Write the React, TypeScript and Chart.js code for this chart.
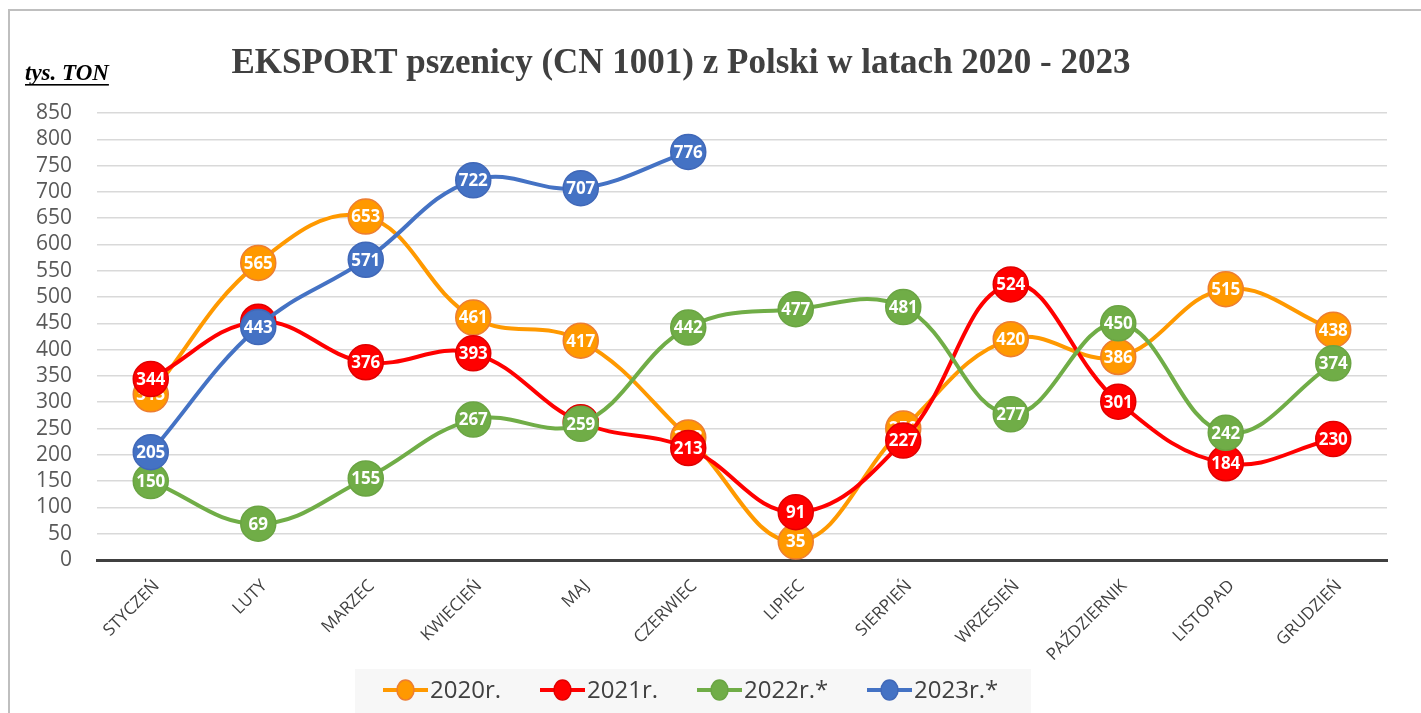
import React, { useEffect, useRef } from "react";
import { Chart, registerables } from "chart.js";
Chart.register(...registerables);

const months = ["STYCZEŃ", "LUTY", "MARZEC", "KWIECIEŃ", "MAJ", "CZERWIEC", "LIPIEC", "SIERPIEŃ", "WRZESIEŃ", "PAŹDZIERNIK", "LISTOPAD", "GRUDZIEŃ"];
const exp2020 = [315, 565, 653, 461, 417, 233, 35, 250, 420, 386, 515, 438];
const exp2021 = [344, 453, 376, 393, 262, 213, 91, 227, 524, 301, 184, 230];
const exp2022 = [150, 69, 155, 267, 259, 442, 477, 481, 277, 450, 242, 374];
const exp2023 = [205, 443, 571, 722, 707, 776];
const seriesNames = ["2020r.", "2021r.", "2022r.*", "2023r.*"];
const seriesColors = ["#FF9900", "#FF0000", "#70AD47", "#4472C4"];
const seriesBorders = ["#ED7D31", "#E00000", "#6AA443", "#4068B8"];
const yMax = 850;
const yStep = 50;
const titleText = "EKSPORT pszenicy (CN 1001) z Polski w latach 2020 - 2023";
const unitText = "tys. TON";

const W = 1421;
const H = 713;

const decorPlugin = {
  id: "decor",
  beforeDraw(chart: any) {
    const ctx = chart.ctx;
    ctx.save();
    ctx.fillStyle = "#ffffff";
    ctx.fillRect(0, 0, W, H);
    ctx.strokeStyle = "#bfbfbf";
    ctx.lineWidth = 2;
    ctx.beginPath();
    ctx.moveTo(9, H + 5);
    ctx.lineTo(9, 10);
    ctx.lineTo(W + 5, 10);
    ctx.stroke();
    // title
    ctx.fillStyle = "#404040";
    ctx.font = "bold 35px 'Liberation Serif', 'Times New Roman', serif";
    ctx.textAlign = "center";
    ctx.textBaseline = "alphabetic";
    ctx.fillText(titleText, 681, 73);
    // unit label
    ctx.font = "italic bold 23px 'Liberation Serif', 'Times New Roman', serif";
    ctx.textAlign = "left";
    ctx.fillStyle = "#000000";
    ctx.fillText(unitText, 25, 80);
    const tw = ctx.measureText(unitText).width;
    ctx.fillRect(25, 84, tw, 1.6);
    ctx.restore();
  },
  afterDraw(chart: any) {
    const ctx = chart.ctx;
    ctx.save();
    // legend box
    ctx.fillStyle = "#f7f7f7";
    ctx.fillRect(355, 669, 676, 50);
    const xs = [383, 540, 697, 867];
    const cy = 690;
    ctx.font = "24px 'Open Sans', sans-serif";
    ctx.textBaseline = "middle";
    ctx.textAlign = "left";
    for (let i = 0; i < 4; i++) {
      const x = xs[i];
      ctx.strokeStyle = seriesColors[i];
      ctx.lineWidth = 4;
      ctx.beginPath();
      ctx.moveTo(x, cy);
      ctx.lineTo(x + 45, cy);
      ctx.stroke();
      ctx.beginPath();
      ctx.fillStyle = seriesColors[i];
      ctx.strokeStyle = seriesBorders[i];
      ctx.lineWidth = 1.5;
      ctx.ellipse(x + 22.5, cy, 8.5, 10, 0, 0, Math.PI * 2);
      ctx.fill();
      ctx.stroke();
      ctx.fillStyle = "#404040";
      ctx.fillText(seriesNames[i], x + 47, cy + 1);
    }
    ctx.restore();
  },
  afterDatasetDraw(chart: any, args: any) {
    const ctx = chart.ctx;
    const meta = args.meta;
    const ds = chart.data.datasets[args.index];
    ctx.save();
    ctx.fillStyle = "#ffffff";
    ctx.font = "bold 17px 'Open Sans', sans-serif";
    ctx.textAlign = "center";
    ctx.textBaseline = "middle";
    meta.data.forEach((pt: any, i: number) => {
      const v = ds.data[i];
      if (v === null || v === undefined) return;
      ctx.fillText(String(v), pt.x, pt.y + 1);
    });
    ctx.restore();
  },
};

export default function App() {
  const ref = useRef<HTMLCanvasElement>(null);
  useEffect(() => {
    const all = [exp2020, exp2021, exp2022, exp2023];
    const chart = new Chart(ref.current as HTMLCanvasElement, {
      type: "line",
      data: {
        labels: months,
        datasets: all.map((d, i) => ({
          label: seriesNames[i],
          data: d,
          borderColor: seriesColors[i],
          backgroundColor: seriesColors[i],
          borderWidth: 4,
          tension: 0.4,
          pointRadius: 17.5,
          pointHoverRadius: 17.5,
          pointBackgroundColor: seriesColors[i],
          pointBorderColor: seriesBorders[i],
          pointBorderWidth: 1.5,
          order: 4 - i,
          fill: false,
        })),
      },
      options: {
        responsive: false,
        animation: false,
        events: [],
        layout: { padding: { left: 0, right: 34, top: 113, bottom: 53 } },
        plugins: { legend: { display: false }, title: { display: false }, tooltip: { enabled: false } },
        scales: {
          x: {
            offset: true,
            grid: { display: false, drawTicks: false },
            border: { display: true, color: "#404040", width: 3 },
            ticks: {
              autoSkip: false,
              maxRotation: 45,
              minRotation: 45,
              padding: 16,
              labelOffset: 6,
              color: "#404040",
              font: { size: 17, family: "'Open Sans', sans-serif" },
            },
            afterFit: (s: any) => { s.height = 100; },
          },
          y: {
            min: 0,
            max: yMax,
            grid: {
              color: (c: any) => (c.tick && c.tick.value === 0 ? "rgba(0,0,0,0)" : "#d9d9d9"),
              lineWidth: 1.5,
              drawTicks: false,
            },
            border: { display: false },
            ticks: {
              stepSize: yStep,
              autoSkip: false,
              padding: 25,
              color: "#595959",
              font: { size: 21, family: "'Open Sans', sans-serif" },
            },
            afterFit: (s: any) => { s.width = 97; },
          },
        },
      },
      plugins: [decorPlugin],
    } as any);
    return () => chart.destroy();
  }, []);
  return (
    <div style={{ position: "fixed", left: 0, top: 0, width: W, height: H, background: "#fff" }}>
      <canvas ref={ref} width={W} height={H} style={{ display: "block", width: W, height: H }} />
    </div>
  );
}
